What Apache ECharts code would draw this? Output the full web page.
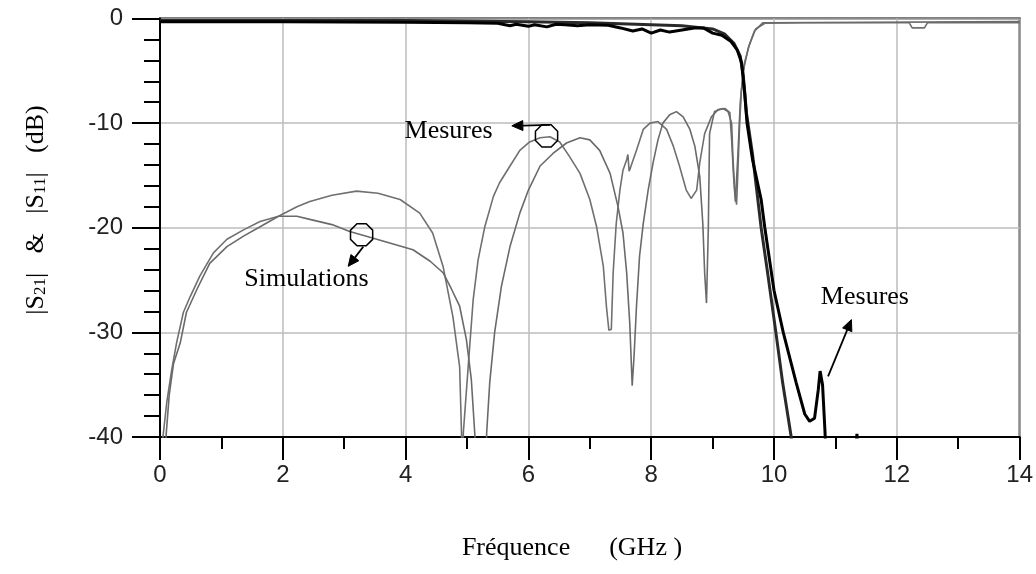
<!DOCTYPE html>
<html><head><meta charset="utf-8">
<script src="https://cdn.jsdelivr.net/npm/echarts@6/dist/echarts.min.js"></script>
<style>html,body{margin:0;padding:0;background:#fff;}#c{width:1036px;height:574px;}</style>
</head><body><div id="c"></div>
<script>
// ---- Data (GHz, dB) ----
var xTicks = [0, 2, 4, 6, 8, 10, 12, 14];
var yTicks = [0, -10, -20, -30, -40];

var s11Mesure = [[0.03,-42],[0.05,-39.9],[0.11,-36.7],[0.19,-33.6],[0.27,-31.0],[0.38,-28.1],[0.49,-26.6],[0.65,-24.6],[0.87,-22.4],[1.09,-21.1],[1.36,-20.2],[1.63,-19.4],[1.93,-18.9],[2.23,-18.0],[2.44,-17.5],[2.8,-16.9],[3.2,-16.5],[3.55,-16.7],[3.91,-17.3],[4.23,-18.6],[4.44,-20.5],[4.61,-23.7],[4.77,-28.5],[4.88,-33.3],[4.91,-39.6],[4.925,-46],[4.935,-46],[4.94,-39.6],[5.02,-33.2],[5.10,-26.9],[5.18,-23.1],[5.29,-19.9],[5.43,-17.0],[5.53,-15.7],[5.70,-14.1],[5.86,-12.6],[6.02,-11.8],[6.19,-11.4],[6.35,-11.3],[6.51,-11.8],[6.67,-13.2],[6.84,-14.8],[7.0,-17.3],[7.11,-19.9],[7.22,-23.7],[7.27,-27.5],[7.31,-29.8],[7.35,-29.7],[7.38,-24.3],[7.43,-19.6],[7.49,-16.4],[7.54,-14.5],[7.60,-13.5],[7.62,-13.0],[7.64,-14.6],[7.66,-14.3],[7.76,-12.6],[7.87,-10.6],[7.98,-10.0],[8.11,-9.85],[8.25,-10.6],[8.36,-12.2],[8.46,-14.1],[8.57,-16.4],[8.65,-17.2],[8.74,-16.4],[8.79,-13.8],[8.87,-11.0],[8.98,-9.4],[9.09,-8.7],[9.17,-8.6],[9.25,-8.9],[9.31,-10],[9.33,-13.2],[9.36,-16.4],[9.39,-17.8],[9.41,-14.8],[9.44,-10],[9.47,-6.8],[9.52,-4.2],[9.6,-2.5],[9.7,-1.0],[9.85,-0.45],[10.5,-0.4],[12.2,-0.4],[12.25,-0.9],[12.45,-0.9],[12.5,-0.4],[14,-0.4]];

var s11Simulation = [[0.08,-42],[0.1,-39.8],[0.15,-36],[0.22,-33],[0.33,-31.0],[0.43,-28.1],[0.60,-25.9],[0.81,-23.4],[1.09,-21.8],[1.36,-20.8],[1.63,-19.9],[1.93,-18.9],[2.23,-18.9],[2.44,-19.2],[2.8,-19.7],[3.09,-20.35],[3.53,-21.1],[4.12,-22.1],[4.40,-23.2],[4.61,-24.3],[4.75,-25.9],[4.88,-27.5],[4.99,-30.7],[5.07,-34.5],[5.13,-40],[5.16,-47],[5.29,-47],[5.32,-39.6],[5.37,-34.8],[5.45,-30],[5.56,-25.6],[5.70,-21.8],[5.86,-18.6],[6.0,-16.4],[6.19,-14.1],[6.40,-12.9],[6.62,-11.9],[6.84,-11.4],[7.0,-11.6],[7.16,-12.6],[7.33,-14.8],[7.46,-18],[7.54,-20.5],[7.60,-24.3],[7.65,-29.1],[7.69,-35.1],[7.72,-32.3],[7.76,-27.5],[7.81,-22.7],[7.87,-19.6],[7.95,-16.4],[8.03,-13.8],[8.11,-11.6],[8.19,-10],[8.30,-9.2],[8.41,-8.9],[8.52,-9.4],[8.63,-10.6],[8.71,-12.2],[8.79,-15.1],[8.84,-19.6],[8.87,-24.3],[8.90,-27.2],[8.93,-20],[8.95,-11],[9.03,-8.9],[9.12,-8.7],[9.2,-8.6],[9.28,-9.0],[9.31,-11.6],[9.34,-15],[9.37,-17.5],[9.41,-13.2],[9.45,-8],[9.5,-5],[9.58,-2.8],[9.68,-1.2],[9.82,-0.4],[14,-0.3]];

var s21Mesure = [[0,-0.3],[2,-0.3],[4,-0.35],[5.0,-0.4],[5.5,-0.45],[5.7,-0.7],[5.8,-0.55],[6.0,-0.75],[6.1,-0.6],[6.3,-0.8],[6.45,-0.55],[6.6,-0.6],[6.8,-0.7],[7.0,-0.6],[7.3,-0.65],[7.5,-0.9],[7.7,-1.2],[7.85,-1.0],[8.0,-1.4],[8.15,-1.1],[8.3,-1.3],[8.5,-1.1],[8.7,-0.9],[8.85,-0.9],[9.0,-1.4],[9.15,-1.6],[9.3,-2.2],[9.4,-3],[9.47,-4.2],[9.52,-7],[9.56,-10],[9.65,-13.5],[9.79,-17.3],[9.85,-20],[10.0,-26],[10.15,-30],[10.36,-34.8],[10.5,-37.8],[10.58,-38.5],[10.66,-38.2],[10.72,-35.5],[10.75,-33.7],[10.79,-35],[10.83,-39.5],[10.86,-44],[11.3,-44],[11.35,-39.7],[11.4,-44]];

var s21Simulation = [[0,-0.2],[4,-0.2],[6,-0.3],[7,-0.4],[8,-0.6],[8.5,-0.7],[9.0,-1.0],[9.2,-1.5],[9.35,-2.4],[9.45,-3.6],[9.5,-5.5],[9.55,-9],[9.65,-13],[9.79,-20],[9.9,-24.5],[10.03,-30],[10.14,-34.8],[10.28,-40],[10.32,-45]];

// annotations in data coordinates
var notes = [
  {text: 'Mesures', at: [4.70, -10.81]},
  {text: 'Simulations', at: [2.385, -24.96]},
  {text: 'Mesures', at: [11.48, -26.59]}
];
var markers = [[6.295, -11.22], [3.283, -20.67]];
var arrows = [
  {from: [6.35, -10.17], to: [5.73, -10.26]},
  {from: [3.31, -21.81], to: [3.065, -23.69]},
  {from: [10.88, -34.2], to: [11.26, -28.78]}
];

var chart = echarts.init(document.getElementById('c'), null, {renderer: 'canvas'});
var serif = '"Liberation Serif", "Times New Roman", serif';
var sans = '"Liberation Sans", Arial, sans-serif';

function lineSeries(name, data, color, width) {
  return {name: name, type: 'line', data: data, showSymbol: false, symbol: 'none',
    clip: true, animation: false, lineStyle: {color: color, width: width}, z: 3};
}

chart.setOption({
  animation: false,
  backgroundColor: '#fff',
  grid: {left: 160, right: 16, top: 18.5, bottom: 137, show: true, borderColor: '#000', borderWidth: 2, backgroundColor: 'transparent'},
  xAxis: {
    type: 'value', min: 0, max: 14, interval: 2,
    axisLine: {show: true, onZero: false, lineStyle: {color: '#000', width: 2}},
    axisTick: {show: true, inside: false, length: 23, lineStyle: {color: '#000', width: 2}},
    minorTick: {show: true, splitNumber: 2, length: 12, lineStyle: {color: '#000', width: 2}},
    splitLine: {show: true, lineStyle: {color: '#bcbcbc', width: 1.5}},
    axisLabel: {margin: 26, fontFamily: sans, fontSize: 24, color: '#222',
      formatter: function (v) { return xTicks.indexOf(v) >= 0 ? String(v) : ''; }}
  },
  yAxis: {
    type: 'value', min: -40, max: 0, interval: 10,
    axisLine: {show: true, onZero: false, lineStyle: {color: '#000', width: 2}},
    axisTick: {show: true, inside: false, length: 28, lineStyle: {color: '#000', width: 2}},
    minorTick: {show: true, splitNumber: 5, length: 16, lineStyle: {color: '#000', width: 2}},
    splitLine: {show: true, lineStyle: {color: '#bcbcbc', width: 1.5}},
    axisLabel: {margin: 37, fontFamily: sans, fontSize: 24, color: '#222',
      formatter: function (v) { return yTicks.indexOf(v) >= 0 ? String(v) : ''; }}
  },
  series: [
    lineSeries('S11 mesure', s11Mesure, '#707070', 1.6),
    lineSeries('S11 simulation', s11Simulation, '#6a6a6a', 1.6),
    lineSeries('S21 simulation', s21Simulation, '#2a2a2a', 3),
    lineSeries('S21 mesure', s21Mesure, '#000', 3)
  ]
});

function px(p) { return chart.convertToPixel({gridIndex: 0}, p); }

var g = [];
g.push({type: 'text', x: 572, y: 548, style: {
  text: 'Fréquence      (GHz )', fontFamily: serif, fontSize: 26, fill: '#000',
  align: 'center', verticalAlign: 'middle'}});
g.push({type: 'text', x: 36, y: 210, rotation: Math.PI / 2, style: {
  text: '|S{sub|21}|   &   |S{sub|11}|   (dB)', fontFamily: serif, fontSize: 26, fill: '#000',
  align: 'center', verticalAlign: 'middle',
  rich: {sub: {fontFamily: serif, fontSize: 17, verticalAlign: 'bottom', padding: [10, 0, 0, 0], fill: '#000'}}}});

notes.forEach(function (n) {
  var p = px(n.at);
  g.push({type: 'text', x: p[0], y: p[1], z: 10, style: {text: n.text, fontFamily: serif, fontSize: 26,
    fill: '#000', align: 'center', verticalAlign: 'middle'}});
});
markers.forEach(function (m) {
  var c = px(m), pts = [], r = 12;
  for (var i = 0; i < 8; i++) {
    var a = Math.PI / 8 + i * Math.PI / 4;
    pts.push([c[0] + r * Math.cos(a), c[1] + r * Math.sin(a)]);
  }
  g.push({type: 'polygon', z: 10, shape: {points: pts}, style: {fill: 'none', stroke: '#000', lineWidth: 1.5}});
});
arrows.forEach(function (a) {
  var p0 = px(a.from), p1 = px(a.to);
  var dx = p1[0] - p0[0], dy = p1[1] - p0[1], L = Math.sqrt(dx * dx + dy * dy);
  var ux = dx / L, uy = dy / L, hl = 11, hw = 5;
  var bx = p1[0] - ux * hl, by = p1[1] - uy * hl;
  g.push({type: 'line', z: 10, shape: {x1: p0[0], y1: p0[1], x2: bx, y2: by}, style: {stroke: '#000', lineWidth: 1.8}});
  g.push({type: 'polygon', z: 10, shape: {points: [[p1[0], p1[1]], [bx - uy * hw, by + ux * hw], [bx + uy * hw, by - ux * hw]]},
    style: {fill: '#000', stroke: '#000'}});
});
chart.setOption({graphic: g});
</script>
</body></html>
